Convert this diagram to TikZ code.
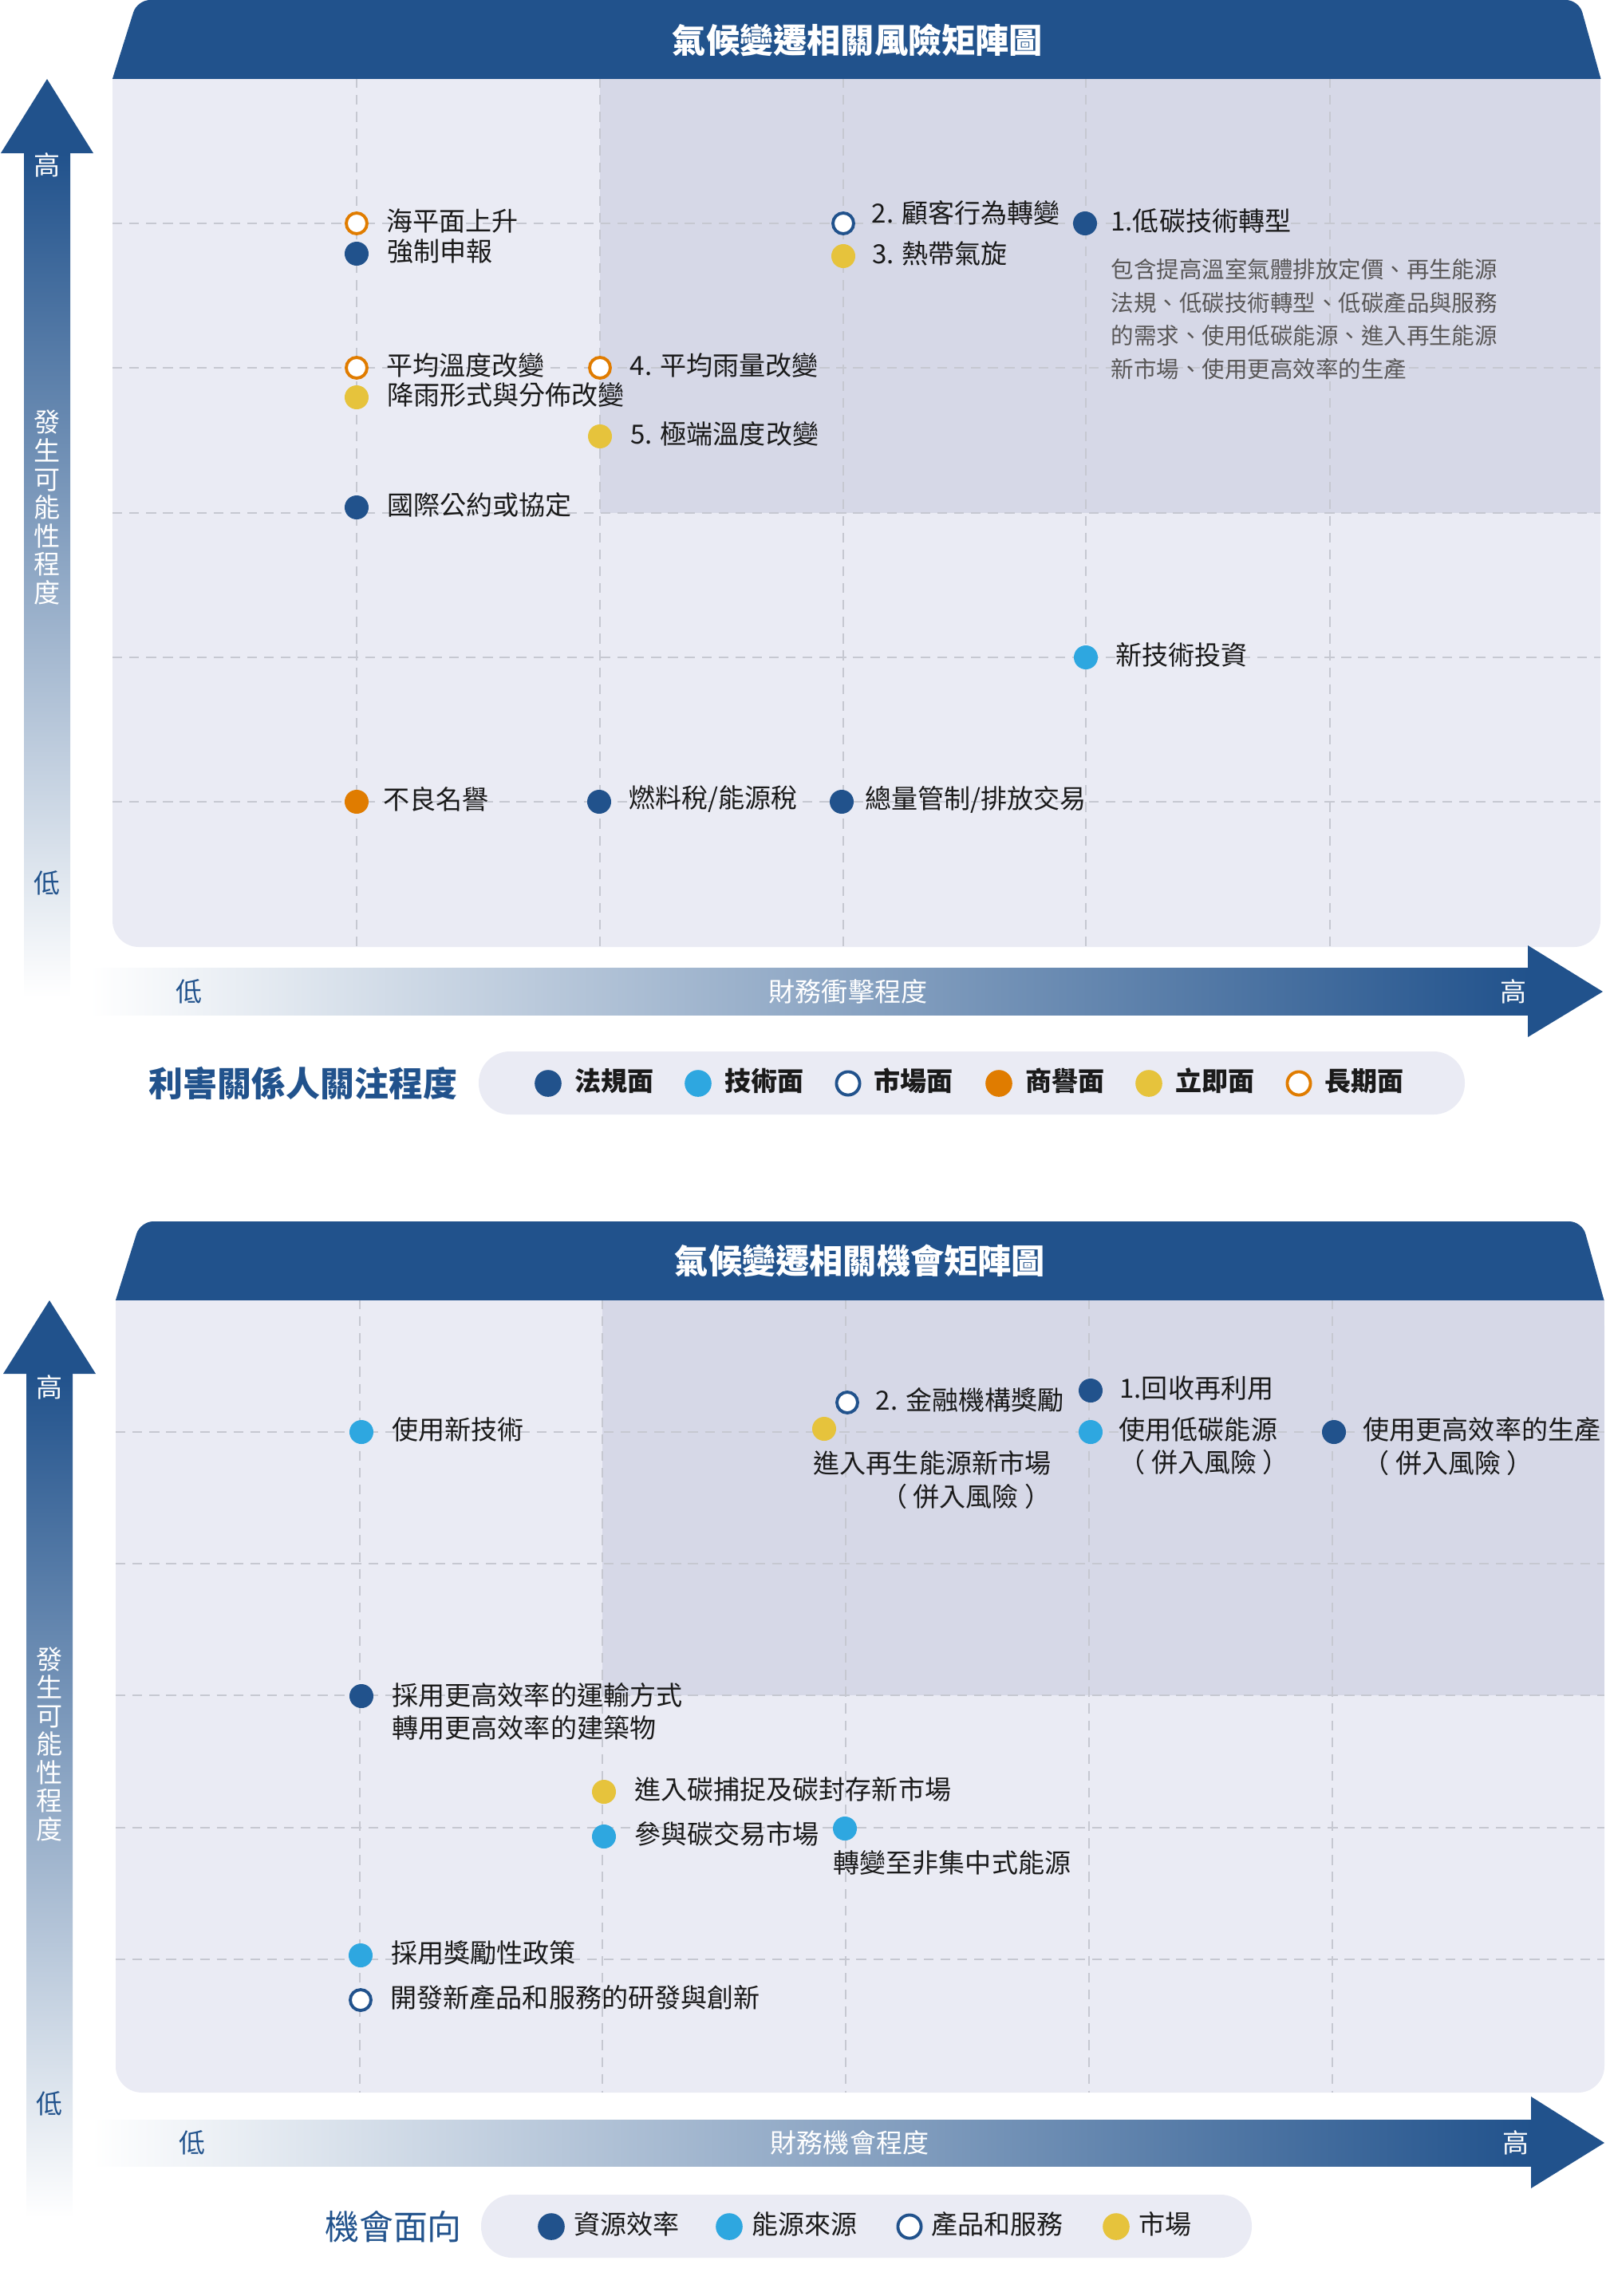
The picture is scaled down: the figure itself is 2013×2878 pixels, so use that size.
\documentclass[tikz,border=0pt]{standalone}
\usepackage{fontspec}
\setmainfont{Noto Sans CJK TC}
\usepackage{tikz}
\usetikzlibrary{positioning}
\definecolor{navy}{HTML}{21528C}
\definecolor{sky}{HTML}{2EA7E0}
\definecolor{amber}{HTML}{E07C00}
\definecolor{gold}{HTML}{E6C33C}
\definecolor{panelbg}{HTML}{EAEBF4}
\definecolor{hotbg}{HTML}{D6D8E7}
\definecolor{gridc}{HTML}{C6C8D1}
\definecolor{desc}{HTML}{595757}
\definecolor{ink}{HTML}{1A1A1A}
\newcommand\labfont{\fontsize{9.4pt}{11.7pt}\selectfont}
\newcommand\descfont{\fontsize{8.1pt}{11.8pt}\selectfont}
\newcommand\headfont{\fontsize{12pt}{14pt}\selectfont\bfseries}
\newcommand\axisfont{\fontsize{9.4pt}{10.1pt}\selectfont}
\newcommand\keyfont{\fontsize{9.4pt}{11pt}\selectfont}
\newcommand\keyheadfont{\fontsize{12.2pt}{14pt}\selectfont}
\tikzset{
  dotbase/.style={circle, inner sep=0pt, minimum size=0.3cm},
  regdot/.style={dotbase, fill=navy},
  techdot/.style={dotbase, fill=sky},
  mktdot/.style={dotbase, fill=white, draw=navy, line width=1.1pt, minimum size=0.26cm},
  repdot/.style={dotbase, fill=amber},
  nowdot/.style={dotbase, fill=gold},
  longdot/.style={dotbase, fill=white, draw=amber, line width=1.1pt, minimum size=0.26cm},
  lab/.style={anchor=west, inner sep=0pt, text=ink, font=\labfont, yshift=0.03cm},
  notetext/.style={anchor=west, inner sep=0pt, text=desc, font=\descfont, align=left},
  gridline/.style={draw=gridc, line width=0.8pt, dash pattern=on 3.5pt off 2.5pt},
  axislab/.style={inner sep=0pt, font=\axisfont},
  headtext/.style={inner sep=0pt, text=white, font=\headfont},
}

\begin{document}
\begin{tikzpicture}[x=0.01cm, y=-0.01cm]
  \useasboundingbox (0,0) rectangle (2013,2878);

  % risk matrix
  \fill[panelbg, rounded corners=0.33cm] (141,98) rectangle (2006,1187);
  \fill[panelbg] (141,98) rectangle (2006,400);
  \fill[hotbg] (752,98) rectangle (2006,643);
  \foreach \x in {447,752,1057,1361,1667}
    \draw[gridline] (\x,98) -- (\x,1187);
  \foreach \y in {280,461,643,824,1005}
    \draw[gridline] (141,\y) -- (2006,\y);
  \begin{scope}
    \clip (0,0) rectangle (2013,98);
    \fill[navy, rounded corners=0.16cm] (128,140) -- (172,0) -- (1979,0) -- (2018,140) -- cycle;
  \end{scope}
  \node[headtext] (risktitle) at (1075,50) {氣候變遷相關風險矩陣圖};

  \shade[top color=navy, bottom color=white] (30,192) rectangle (88,1250);
  \fill[navy] (59,99) -- (117,192) -- (1,192) -- cycle;
  \node[axislab, text=white] (yhigh1) at (59,207) {高};
  \node[axislab, text=white, align=center] (yname1) at (59,636) {發\\生\\可\\能\\性\\程\\度};
  \node[axislab, text=navy] (ylow1) at (59,1107) {低};

  \shade[left color=white, right color=navy] (113,1213) rectangle (1916,1272);
  \fill[navy] (1915,1185) -- (2009,1243) -- (1915,1300) -- cycle;
  \node[axislab, text=navy] (xlow1) at (237,1243) {低};
  \node[axislab, text=white] (xname1) at (1063,1243) {財務衝擊程度};
  \node[axislab, text=white] (xhigh1) at (1897,1243) {高};

  \node[longdot] (sea) at (447,280) {};
  \node[lab, right=0.22cm of sea] (sealab) {海平面上升};
  \node[regdot] (report) at (447,318) {};
  \node[lab, right=0.22cm of report] (reportlab) {強制申報};
  \node[longdot] (temp) at (447,461) {};
  \node[lab, right=0.22cm of temp] (templab) {平均溫度改變};
  \node[nowdot] (rainform) at (447,498) {};
  \node[lab, right=0.22cm of rainform] (rainformlab) {降雨形式與分佈改變};
  \node[longdot] (rainavg) at (752,461) {};
  \node[lab, right=0.22cm of rainavg] (rainavglab) {4. 平均雨量改變};
  \node[nowdot] (extreme) at (752,547) {};
  \node[lab, right=0.22cm of extreme] (extremelab) {5. 極端溫度改變};
  \node[regdot] (treaty) at (447,636) {};
  \node[lab, right=0.22cm of treaty] (treatylab) {國際公約或協定};
  \node[mktdot] (custom) at (1057,280) {};
  \node[lab, right=0.2cm of custom, yshift=0.1cm] (customlab) {2. 顧客行為轉變};
  \node[nowdot] (cyclone) at (1057,321) {};
  \node[lab, right=0.2cm of cyclone] (cyclonelab) {3. 熱帶氣旋};
  \node[regdot] (lowcarb) at (1360,280) {};
  \node[lab, right=0.16cm of lowcarb] (lowcarblab) {1.低碳技術轉型};
  \node[notetext] (lowcarbnote) at (1392,400) {包含提高溫室氣體排放定價、再生能源\\法規、低碳技術轉型、低碳產品與服務\\的需求、使用低碳能源、進入再生能源\\新市場、使用更高效率的生產};
  \node[techdot] (newtech) at (1361,824) {};
  \node[lab, right=0.21cm of newtech] (newtechlab) {新技術投資};
  \node[repdot] (repute) at (447,1005) {};
  \node[lab, right=0.17cm of repute] (reputelab) {不良名譽};
  \node[regdot] (fueltax) at (751,1005) {};
  \node[lab, right=0.21cm of fueltax] (fueltaxlab) {燃料稅/能源稅};
  \node[regdot] (captrade) at (1055,1005) {};
  \node[lab, right=0.13cm of captrade] (captradelab) {總量管制/排放交易};

  \fill[panelbg, rounded corners=0.39cm] (600,1318) rectangle (1836,1397);
  \node[axislab, text=navy, font=\keyheadfont\bfseries] (riskkey) at (380,1358) {利害關係人關注程度};
  \foreach \x/\st/\t [count=\i] in {687/regdot/法規面, 875/techdot/技術面, 1063/mktdot/市場面,
      1252/repdot/商譽面, 1440/nowdot/立即面, 1628/longdot/長期面}
  {
    \node[\st, scale=1.12] (rkey\i) at (\x,1358) {};
    \node[lab, font=\keyfont\bfseries, right=0.15cm of rkey\i] (rkeylab\i) {\t};
  }

  % opportunity matrix
  \fill[panelbg, rounded corners=0.33cm] (145,1629) rectangle (2011,2623);
  \fill[panelbg] (145,1629) rectangle (2011,1900);
  \fill[hotbg] (755,1629) rectangle (2011,2125);
  \foreach \x in {451,755,1060,1365,1670}
    \draw[gridline] (\x,1629) -- (\x,2623);
  \foreach \y in {1795,1960,2125,2291,2456}
    \draw[gridline] (145,\y) -- (2011,\y);
  \begin{scope}
    \clip (0,1531) rectangle (2013,1629);
    \fill[navy, rounded corners=0.16cm] (132,1671) -- (176,1531) -- (1983,1531) -- (2022,1671) -- cycle;
  \end{scope}
  \node[headtext] (opptitle) at (1078,1580) {氣候變遷相關機會矩陣圖};

  \shade[top color=navy, bottom color=white] (33,1722) rectangle (91,2780);
  \fill[navy] (62,1630) -- (120,1722) -- (4,1722) -- cycle;
  \node[axislab, text=white] (yhigh2) at (62,1739) {高};
  \node[axislab, text=white, align=center] (yname2) at (62,2186) {發\\生\\可\\能\\性\\程\\度};
  \node[axislab, text=navy] (ylow2) at (62,2637) {低};

  \shade[left color=white, right color=navy] (115,2657) rectangle (1920,2715);
  \fill[navy] (1919,2628) -- (2011,2686) -- (1919,2743) -- cycle;
  \node[axislab, text=navy] (xlow2) at (241,2686) {低};
  \node[axislab, text=white] (xname2) at (1065,2686) {財務機會程度};
  \node[axislab, text=white] (xhigh2) at (1900,2686) {高};

  \node[techdot] (newtech2) at (453,1795) {};
  \node[lab, right=0.22cm of newtech2] (newtech2lab) {使用新技術};
  \node[regdot] (transport) at (453,2126) {};
  \node[lab, align=left] (transportlab) at (491,2148) {採用更高效率的運輸方式\\轉用更高效率的建築物};
  \node[mktdot] (finance) at (1062,1758) {};
  \node[lab, right=0.2cm of finance] (financelab) {2. 金融機構獎勵};
  \node[nowdot] (renew) at (1033,1791) {};
  \node[lab, align=right, anchor=east] (renewlab) at (1318,1858) {進入再生能源新市場\\（ 併入風險 ）};
  \node[regdot] (recycle) at (1367,1743) {};
  \node[lab, right=0.2cm of recycle] (recyclelab) {1.回收再利用};
  \node[techdot] (lowcarbsrc) at (1367,1795) {};
  \node[lab, align=left] (lowcarbsrclab) at (1402,1816) {使用低碳能源\\（ 併入風險 ）};
  \node[regdot] (efficient) at (1672,1795) {};
  \node[lab, align=left] (efficientlab) at (1708,1816) {使用更高效率的生產\\（ 併入風險 ）};
  \node[nowdot] (ccs) at (757,2246) {};
  \node[lab, right=0.22cm of ccs] (ccslab) {進入碳捕捉及碳封存新市場};
  \node[techdot] (ets) at (757,2302) {};
  \node[lab, right=0.22cm of ets] (etslab) {參與碳交易市場};
  \node[techdot] (distgen) at (1059,2292) {};
  \node[lab] (distgenlab) at (1044,2338) {轉變至非集中式能源};
  \node[techdot] (incent) at (452,2451) {};
  \node[lab, right=0.22cm of incent] (incentlab) {採用獎勵性政策};
  \node[mktdot] (rnd) at (452,2507) {};
  \node[lab, right=0.22cm of rnd] (rndlab) {開發新產品和服務的研發與創新};

  \fill[panelbg, rounded corners=0.39cm] (603,2751) rectangle (1569,2830);
  \node[axislab, text=navy, font=\keyheadfont] (oppkey) at (493,2791) {機會面向};
  \foreach \x/\st/\t [count=\i] in {691/regdot/資源效率, 914/techdot/能源來源,
      1140/mktdot/產品和服務, 1399/nowdot/市場}
  {
    \node[\st, scale=1.12] (okey\i) at (\x,2791) {};
    \node[lab, font=\keyfont, right=0.1cm of okey\i] (okeylab\i) {\t};
  }
\end{tikzpicture}
\end{document}
